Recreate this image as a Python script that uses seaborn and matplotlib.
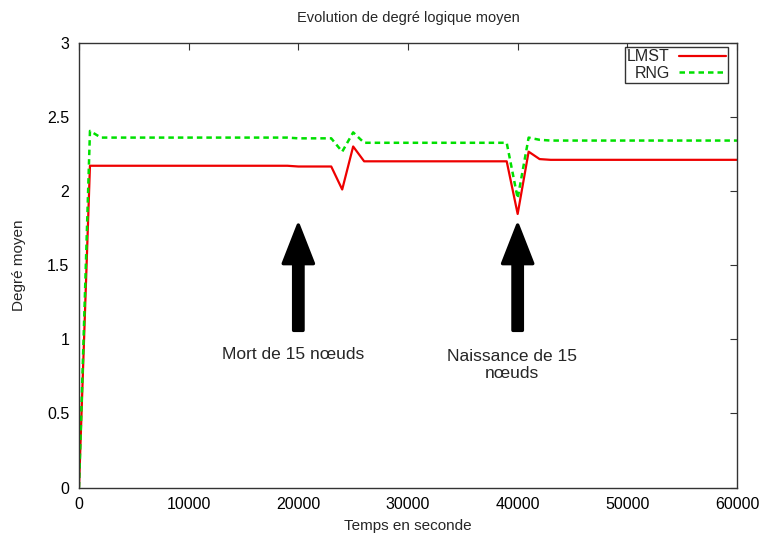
import matplotlib
matplotlib.use("Agg")
import matplotlib.pyplot as plt
import seaborn as sns
import pandas as pd

# ---- data ----
times = [0, 1000, 2000, 19000, 20000, 23000, 24000, 25000, 26000,
         39000, 40000, 41000, 42000, 43000, 60000]
lmst = [0, 2.17, 2.17, 2.17, 2.165, 2.165, 2.01, 2.30, 2.20,
        2.20, 1.845, 2.265, 2.215, 2.21, 2.21]
rng = [0, 2.405, 2.36, 2.36, 2.355, 2.355, 2.265, 2.395, 2.325,
       2.325, 1.95, 2.36, 2.345, 2.34, 2.34]
series_names = ["LMST", "RNG"]
x_ticks = [0, 10000, 20000, 30000, 40000, 50000, 60000]
y_ticks = [0, 0.5, 1, 1.5, 2, 2.5, 3]
y_tick_labels = ["0", "0.5", "1", "1.5", "2", "2.5", "3"]
arrow_x = [20000, 40000]
arrow_texts = ["Mort de 15 nœuds", "Naissance de 15\nnœuds"]
text_x = [19500, 39500]

sns.set_style("white")
plt.rcParams['font.family'] = ['Liberation Sans', 'DejaVu Sans']

fig = plt.figure(figsize=(7.61, 5.33), dpi=100)
ax = fig.add_axes([79/761, 1-487.5/533, (737-79)/761, (487.5-42.7)/533])

df = pd.DataFrame({"t": times, "LMST": lmst, "RNG": rng})
sns.lineplot(data=df, x="t", y="LMST", ax=ax, color="#ee0000", lw=1.6, label="LMST")
sns.lineplot(data=df, x="t", y="RNG", ax=ax, color="#00e000", lw=1.8,
             label="RNG", dashes=False, linestyle=(0, (2.2, 1.6)))

ax.set_xlim(0, 60000)
ax.set_ylim(0, 3)
ax.set_xticks(x_ticks)
ax.set_xticklabels([str(v) for v in x_ticks])
ax.set_yticks(y_ticks)
ax.set_yticklabels(y_tick_labels)
ax.tick_params(direction="in", length=5, width=0.8, labelsize=11.5,
               top=True, right=True, colors="#333333", labelcolor="black", pad=7)
for s in ax.spines.values():
    s.set_color("#333333")
    s.set_linewidth(1.0)

ax.set_xlabel("Temps en seconde", fontsize=11, labelpad=5)
ax.set_ylabel("Degré moyen", fontsize=11, labelpad=15)
ax.set_title("Evolution de degré logique moyen", fontsize=10.5, pad=15)

for ax_x in arrow_x:
    ax.arrow(ax_x, 1.06, 0, 0.71, width=850, head_width=2750, head_length=0.26,
             length_includes_head=True, facecolor="black", edgecolor="black",
             linewidth=2.5, joinstyle="round", zorder=3)
ax.text(text_x[0], 0.90, arrow_texts[0], ha="center", va="center", fontsize=12.5)
ax.text(text_x[1], 0.825, arrow_texts[1], ha="center", va="center", fontsize=12.5,
        linespacing=1.2)

leg = ax.legend(loc="upper right", bbox_to_anchor=(728/761, 1-47/533),
                bbox_transform=fig.transFigure, markerfirst=False, frameon=True,
                fancybox=False, fontsize=11.5, handlelength=2.9, borderpad=0.15,
                labelspacing=0.1, handletextpad=0.6, borderaxespad=0)
leg.get_frame().set_edgecolor("black")
leg.get_frame().set_linewidth(1.0)

fig.savefig("out.png", dpi=100)
